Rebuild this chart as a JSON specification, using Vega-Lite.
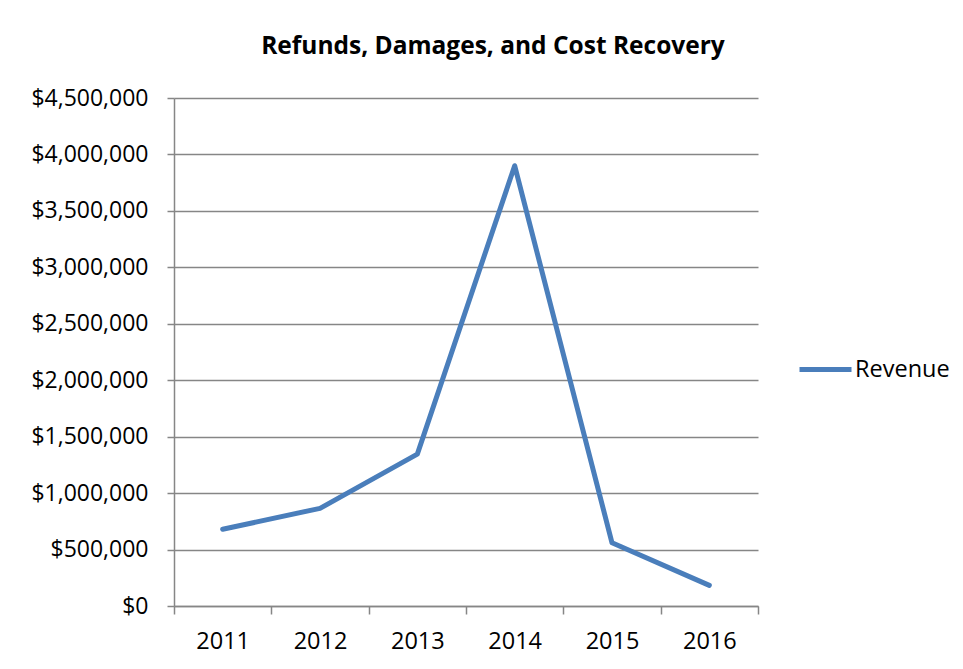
{
  "$schema": "https://vega.github.io/schema/vega-lite/v6.json",
  "autosize": {"type": "none"},
  "padding": {"left": 174, "top": 98, "right": 205, "bottom": 63},
  "width": 584,
  "height": 508,
  "background": "white",
  "title": {
    "text": "Refunds, Damages, and Cost Recovery",
    "font": "Open Sans",
    "fontSize": 24.5,
    "fontWeight": "bold",
    "color": "black",
    "anchor": "middle",
    "frame": "group",
    "baseline": "alphabetic",
    "offset": 9,
    "dx": 27
  },
  "data": {
    "values": [
      {"year": "2011", "value": 680000, "series": "Revenue"},
      {"year": "2012", "value": 865000, "series": "Revenue"},
      {"year": "2013", "value": 1345000, "series": "Revenue"},
      {"year": "2014", "value": 3900000, "series": "Revenue"},
      {"year": "2015", "value": 560000, "series": "Revenue"},
      {"year": "2016", "value": 183000, "series": "Revenue"}
    ]
  },
  "mark": {"type": "line", "strokeWidth": 5, "strokeCap": "round", "strokeJoin": "round"},
  "encoding": {
    "x": {
      "field": "year",
      "type": "ordinal",
      "bandPosition": 0.5,
      "scale": {"type": "band", "paddingInner": 0, "paddingOuter": 0},
      "axis": {
        "title": null,
        "labelAngle": 0,
        "labelFont": "Open Sans",
        "labelFontSize": 23.5,
        "labelColor": "black",
        "labelPadding": 15,
        "tickBand": "extent",
        "tickSize": 8,
        "tickColor": "#868686",
        "tickWidth": 1.5,
        "domainColor": "#868686",
        "domainWidth": 1.5,
        "grid": false
      }
    },
    "y": {
      "field": "value",
      "type": "quantitative",
      "scale": {"domain": [0, 4500000], "nice": false},
      "axis": {
        "title": null,
        "values": [0, 500000, 1000000, 1500000, 2000000, 2500000, 3000000, 3500000, 4000000, 4500000],
        "format": "$,.0f",
        "labelFont": "Open Sans",
        "labelFontSize": 23,
        "labelColor": "black",
        "labelPadding": 19,
        "tickSize": 7,
        "tickColor": "#868686",
        "tickWidth": 1.5,
        "domainColor": "#868686",
        "domainWidth": 1.5,
        "grid": true,
        "gridColor": "#868686",
        "gridWidth": 1.5,
        "gridOpacity": 1
      }
    },
    "color": {
      "field": "series",
      "type": "nominal",
      "scale": {"range": ["#4a7ebb"]},
      "legend": {
        "title": null,
        "orient": "none",
        "legendX": 623,
        "legendY": 243,
        "padding": 0,
        "symbolType": "stroke",
        "symbolSize": 2704,
        "symbolStrokeWidth": 5,
        "labelFont": "Open Sans",
        "labelFontSize": 23.5,
        "labelColor": "black",
        "labelOffset": 1
      }
    }
  },
  "config": {
    "view": {"stroke": null}
  }
}
